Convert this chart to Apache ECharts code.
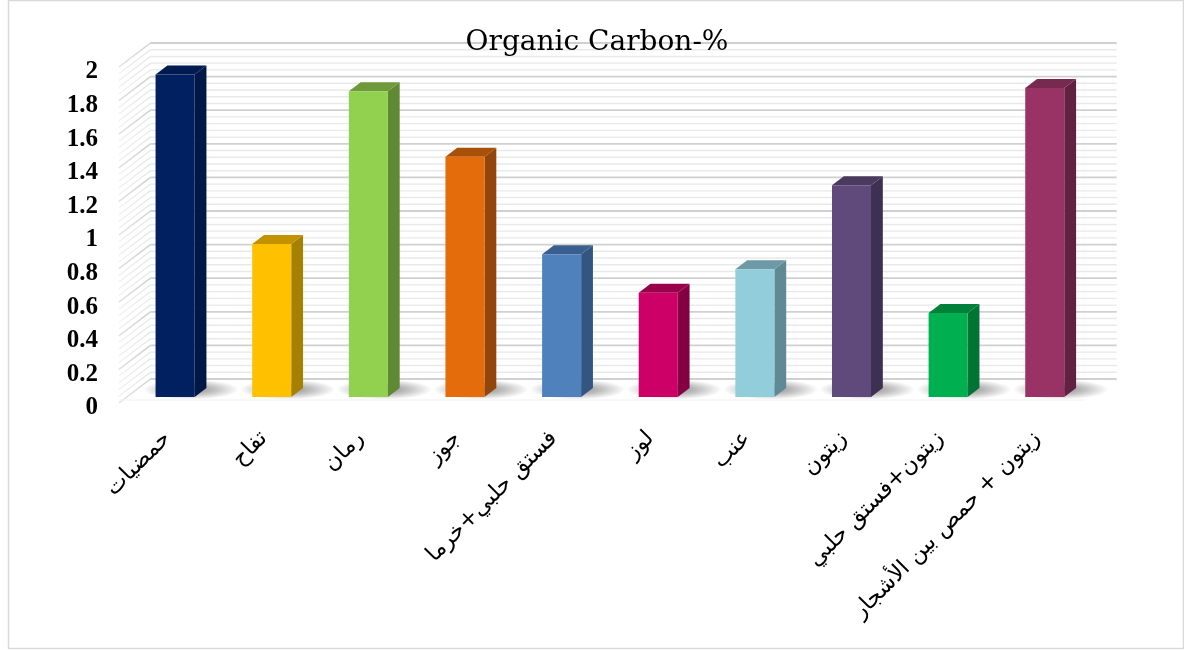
<!DOCTYPE html>
<html>
<head>
<meta charset="utf-8">
<script src="https://cdn.jsdelivr.net/npm/echarts@6/dist/echarts.min.js"></script>
<style>
  html, body { margin: 0; padding: 0; background: #ffffff; }
  #chart { width: 1184px; height: 650px; }
</style>
</head>
<body>
<div id="chart"></div>
<script>
// Categories (land use / crop) and organic carbon percentage per category
const categories = [
  'حمضيات',
  'تفاح',
  'رمان',
  'جوز',
  'فستق حلبي+خرما',
  'لوز',
  'عنب',
  'زيتون',
  'زيتون+فستق حلبي',
  'زيتون + حمص بين الأشجار'
];
const organicCarbon = [1.92, 0.91, 1.82, 1.43, 0.85, 0.62, 0.76, 1.26, 0.50, 1.84];

// Face colours of each column: front, right side, top
const frontColors = ['#002060', '#FFC000', '#92D050', '#E46C0A', '#4F81BD', '#CC0066', '#92CDDC', '#604A7B', '#00B050', '#993366'];
const sideColors  = ['#001846', '#A68000', '#5F8A33', '#94460A', '#335680', '#850042', '#5F8994', '#3E3050', '#007433', '#632142'];
const topColors   = ['#001A52', '#C29200', '#6F9A3C', '#A84F08', '#3A5F8E', '#99004C', '#6D9AA6', '#4A3A5E', '#008038', '#772A50'];

// Value axis ticks
const yMin = 0;
const yMax = 2;
const yStep = 0.2;
const yMinorStep = 0.04;

// Oblique projection: vector from the front edge of the floor to the back wall
const DEPTH = [31.5, -24];
const FRONT_F = 0.25;   // depth fraction of the column front face
const BACK_F = 0.625;   // depth fraction of the column back face
const BAR_RATIO = 0.404;

function renderWalls(params, api) {
  const cs = params.coordSys;
  const x0 = cs.x;
  const x1 = cs.x + cs.width;
  const dx = DEPTH[0], dy = DEPTH[1];
  const children = [];
  const n = Math.round((yMax - yMin) / yMinorStep);
  for (let k = 0; k <= n; k++) {
    const v = yMin + k * yMinorStep;
    const y = api.coord([0, v])[1];
    const major = k % Math.round(yStep / yMinorStep) === 0;
    // back wall line
    children.push({
      type: 'line',
      shape: { x1: x0 + dx, y1: y + dy, x2: x1 + dx, y2: y + dy },
      style: { stroke: major ? '#d0d0d0' : '#e9e9e9', lineWidth: major ? 1.8 : 1.4 }
    });
    // side wall line
    children.push({
      type: 'line',
      shape: { x1: x0, y1: y, x2: x0 + dx, y2: y + dy },
      style: {
        stroke: {
          type: 'linear', x: 0, y: 0, x2: 1, y2: 0,
          colorStops: [
            { offset: 0, color: major ? '#e2e2e2' : '#f0f0f0' },
            { offset: 1, color: major ? '#cfcfcf' : '#e4e4e4' }
          ]
        },
        lineWidth: major ? 1.5 : 1.2
      }
    });
  }
  // faint front edge of the floor
  const yb = api.coord([0, yMin])[1];
  children.push({
    type: 'line',
    shape: { x1: x0, y1: yb - 3, x2: x1, y2: yb - 3 },
    style: { stroke: '#f1f1f1', lineWidth: 1 }
  });
  return { type: 'group', children };
}

function renderColumn(params, api) {
  const i = api.value(0);
  const v = api.value(1);
  const base = api.coord([i, yMin]);
  const top = api.coord([i, v]);
  const band = api.size([1, 0])[0];
  const w = band * BAR_RATIO;
  const fx = base[0] + DEPTH[0] * FRONT_F - w / 2;
  const fyB = base[1] + DEPTH[1] * FRONT_F;
  const fyT = top[1] + DEPTH[1] * FRONT_F;
  const ddx = DEPTH[0] * (BACK_F - FRONT_F);
  const ddy = DEPTH[1] * (BACK_F - FRONT_F);
  const idx = params.dataIndex;
  // soft floor shadow: a radial blob squashed into an ellipse
  const scx = fx + w / 2 + ddx / 2 + 10;
  const scy = fyB + ddy / 2 - 3;
  const R = 48;
  return {
    type: 'group',
    children: [
      {
        type: 'rect',
        shape: { x: scx - R, y: scy - R, width: 2 * R, height: 2 * R },
        originX: scx,
        originY: scy,
        scaleY: 10 / R,
        style: {
          fill: {
            type: 'radial', x: 0.5, y: 0.5, r: 0.5,
            colorStops: [
              { offset: 0, color: 'rgba(0,0,0,0.45)' },
              { offset: 0.55, color: 'rgba(0,0,0,0.22)' },
              { offset: 1, color: 'rgba(0,0,0,0)' }
            ]
          }
        },
        silent: true
      },
      {
        type: 'polygon',
        shape: { points: [[fx + w, fyT], [fx + w + ddx, fyT + ddy], [fx + w + ddx, fyB + ddy], [fx + w, fyB]] },
        style: { fill: sideColors[idx] }
      },
      {
        type: 'polygon',
        shape: { points: [[fx, fyT], [fx + ddx, fyT + ddy], [fx + w + ddx, fyT + ddy], [fx + w, fyT]] },
        style: { fill: topColors[idx] }
      },
      {
        type: 'rect',
        shape: { x: fx, y: fyT, width: w, height: fyB - fyT },
        style: { fill: frontColors[idx] }
      }
    ]
  };
}

const chart = echarts.init(document.getElementById('chart'), null, { renderer: 'canvas' });

chart.setOption({
  animation: false,
  backgroundColor: '#ffffff',
  grid: { left: 118.9, right: 98.8, top: 67, bottom: 247, containLabel: false },
  xAxis: {
    type: 'category',
    data: categories,
    axisLine: { show: false },
    axisTick: { show: false },
    splitLine: { show: false },
    axisLabel: {
      rotate: 45,
      margin: 32,
      interval: 0,
      color: '#000000',
      fontSize: 22.5,
      fontFamily: '"DejaVu Sans", sans-serif'
    }
  },
  yAxis: {
    type: 'value',
    min: yMin,
    max: yMax,
    interval: yStep,
    axisLine: { show: false },
    axisTick: { show: false },
    splitLine: { show: false },
    axisLabel: {
      margin: 21,
      formatter: '{t|{value}}',
      rich: {
        t: {
          padding: [10, 0, 0, 0],
          color: '#000000',
          fontSize: 25,
          fontWeight: 'bold',
          fontFamily: '"Liberation Serif", serif'
        }
      }
    }
  },
  graphic: [
    {
      type: 'rect',
      shape: { x: 8.5, y: 0.5, width: 1175, height: 648 },
      style: { fill: 'none', stroke: '#d9d9d9', lineWidth: 1.5 },
      z: 0, silent: true
    },
    {
      type: 'text',
      x: 597, y: 43,
      style: {
        text: 'Organic Carbon-%',
        fill: '#000000',
        font: '28px "DejaVu Serif", serif',
        align: 'center',
        verticalAlign: 'middle'
      },
      z: 10
    }
  ],
  series: [
    {
      type: 'custom',
      name: 'walls',
      silent: true,
      z: 1,
      renderItem: renderWalls,
      data: [[0, 0]],
      encode: { x: 0, y: 1 }
    },
    {
      type: 'custom',
      name: 'Organic Carbon-%',
      z: 2,
      renderItem: renderColumn,
      data: organicCarbon.map((v, i) => [i, v]),
      encode: { x: 0, y: 1 }
    }
  ]
});
</script>
</body>
</html>
